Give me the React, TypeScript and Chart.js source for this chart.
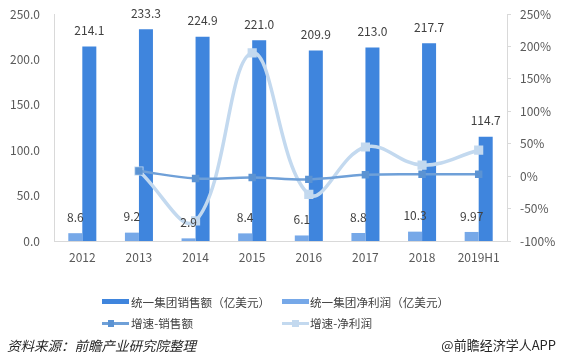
import React, { useEffect, useRef } from "react";
import { Chart, registerables } from "chart.js";

Chart.register(...registerables);

const categories = ["2012", "2013", "2014", "2015", "2016", "2017", "2018", "2019H1"];
const salesValues = [214.1, 233.3, 224.9, 221.0, 209.9, 213.0, 217.7, 114.7];
const salesLabels = ["214.1", "233.3", "224.9", "221.0", "209.9", "213.0", "217.7", "114.7"];
const profitValues = [8.6, 9.2, 2.9, 8.4, 6.1, 8.8, 10.3, 9.97];
const profitLabels = ["8.6", "9.2", "2.9", "8.4", "6.1", "8.8", "10.3", "9.97"];
const salesGrowth = [null, 8, -3.6, -2, -5, 2, 3, 3];
const profitGrowth = [null, 8, -69, 190, -28, 45, 17, 40];

const seriesNames = ["统一集团销售额（亿美元）", "统一集团净利润（亿美元）", "增速-销售额", "增速-净利润"];
const sourceText = "资料来源：前瞻产业研究院整理";
const brandText = "@前瞻经济学人APP";

const FONT = "'Noto Sans CJK SC', 'Microsoft YaHei', sans-serif";
const C_SALES = "#3F85DD";
const C_PROFIT = "#76A8E8";
const C_SG = "#6FA0D8";
const C_SG_PT = "#5B93D3";
const C_PG = "#C3D9EF";
const TICK = "#595959";
const AXIS = "#D9D9D9";

const barLabelPlugin = {
  id: "barLabels",
  afterDatasetsDraw(chart: any) {
    const ctx = chart.ctx;
    ctx.save();
    ctx.font = `12px ${FONT}`;
    ctx.fillStyle = "#404040";
    ctx.textAlign = "center";
    ctx.textBaseline = "middle";
    const sets: [number, string[]][] = [[0, salesLabels], [1, profitLabels]];
    sets.forEach(([i, labels]) => {
      const meta = chart.getDatasetMeta(i);
      meta.data.forEach((el: any, j: number) => {
        ctx.fillText(labels[j], el.x, el.y - 16);
      });
    });
    ctx.restore();
  },
};

export default function App() {
  const ref = useRef<HTMLCanvasElement | null>(null);
  useEffect(() => {
    if (!ref.current) return;
    const chart = new Chart(ref.current, {
      type: "bar",
      data: {
        labels: categories,
        datasets: [
          {
            type: "bar",
            label: seriesNames[0],
            data: salesValues,
            backgroundColor: C_SALES,
            yAxisID: "y",
            order: 3,
            barPercentage: 1,
            categoryPercentage: 0.495,
          } as any,
          {
            type: "bar",
            label: seriesNames[1],
            data: profitValues,
            backgroundColor: C_PROFIT,
            yAxisID: "y",
            order: 2,
            barPercentage: 1,
            categoryPercentage: 0.495,
          } as any,
          {
            type: "line",
            label: seriesNames[2],
            data: salesGrowth,
            borderColor: C_SG,
            borderWidth: 2.5,
            backgroundColor: C_SG_PT,
            pointBackgroundColor: C_SG_PT,
            pointBorderColor: C_SG_PT,
            pointStyle: "rect",
            pointRadius: 3.5,
            tension: 0.4,
            yAxisID: "y1",
            order: 0,
          } as any,
          {
            type: "line",
            label: seriesNames[3],
            data: profitGrowth,
            borderColor: C_PG,
            borderWidth: 3.5,
            backgroundColor: C_PG,
            pointBackgroundColor: C_PG,
            pointBorderColor: C_PG,
            pointStyle: "rect",
            pointRadius: 4,
            tension: 0.4,
            yAxisID: "y1",
            order: 1,
          } as any,
        ],
      },
      options: {
        animation: false,
        responsive: false,
        devicePixelRatio: 1,
        layout: { padding: { top: 14, left: 0, right: 0, bottom: 86 } },
        plugins: {
          legend: { display: false },
          tooltip: { enabled: false },
        },
        scales: {
          x: {
            type: "category",
            offset: true,
            grid: { display: false, drawTicks: false },
            border: { display: true, color: AXIS, width: 1 },
            ticks: { color: TICK, font: { family: FONT, size: 12 }, padding: 9, maxRotation: 0 },
            afterFit: (s: any) => { s.height = 30; s.paddingLeft = 0; s.paddingRight = 0; },
          },
          y: {
            position: "left",
            min: 0,
            max: 250,
            grid: { display: false, drawTicks: false },
            border: { display: true, color: AXIS, width: 1 },
            ticks: {
              stepSize: 50,
              color: TICK,
              font: { family: FONT, size: 12 },
              padding: 14,
              callback: (v: any) => Number(v).toFixed(1),
            },
            afterFit: (s: any) => { s.width = 54; s.paddingTop = 7; s.paddingBottom = 7; },
          },
          y1: {
            position: "right",
            min: -100,
            max: 250,
            grid: { display: true, drawOnChartArea: false, drawTicks: true, tickLength: 4, color: AXIS },
            border: { display: true, color: AXIS, width: 1 },
            ticks: {
              stepSize: 50,
              color: TICK,
              font: { family: FONT, size: 12 },
              padding: 9,
              callback: (v: any) => `${v}%`,
            },
            afterFit: (s: any) => { s.width = 55; s.paddingTop = 7; s.paddingBottom = 7; },
          },
        },
      } as any,
      plugins: [barLabelPlugin],
    });
    return () => chart.destroy();
  }, []);

  const textStyle: React.CSSProperties = {
    position: "absolute",
    fontFamily: FONT,
    fontSize: 11.6,
    color: "#404040",
    lineHeight: "14px",
    whiteSpace: "nowrap",
  };

  return (
    <div style={{ position: "fixed", left: 0, top: 0, width: 562, height: 357, background: "#fff", overflow: "hidden" }}>
      <canvas ref={ref} width={562} height={357} style={{ position: "absolute", left: 0, top: 0, width: 562, height: 357 }} />
      {/* legend row 1 */}
      <div style={{ position: "absolute", left: 102, top: 299, width: 27, height: 5, background: C_SALES }} />
      <div style={{ ...textStyle, left: 131, top: 295 }}>{seriesNames[0]}</div>
      <div style={{ position: "absolute", left: 282, top: 299, width: 27, height: 5, background: C_PROFIT }} />
      <div style={{ ...textStyle, left: 310, top: 295 }}>{seriesNames[1]}</div>
      {/* legend row 2 */}
      <div style={{ position: "absolute", left: 102, top: 322, width: 27, height: 3, background: C_SG }} />
      <div style={{ position: "absolute", left: 108, top: 320, width: 6, height: 7, background: C_SG_PT }} />
      <div style={{ ...textStyle, left: 131, top: 316 }}>{seriesNames[2]}</div>
      <div style={{ position: "absolute", left: 282, top: 322, width: 27, height: 3, background: C_PG }} />
      <div style={{ position: "absolute", left: 292, top: 320, width: 7, height: 7, background: C_PG }} />
      <div style={{ ...textStyle, left: 310, top: 316 }}>{seriesNames[3]}</div>
      {/* source */}
      <div style={{ ...textStyle, left: 7, top: 337, fontSize: 13.5, lineHeight: "16px", fontStyle: "italic", color: "#262626" }}>{sourceText}</div>
      <div style={{ ...textStyle, right: 6, top: 337, fontSize: 13, lineHeight: "16px", color: "#262626" }}>{brandText}</div>
    </div>
  );
}
